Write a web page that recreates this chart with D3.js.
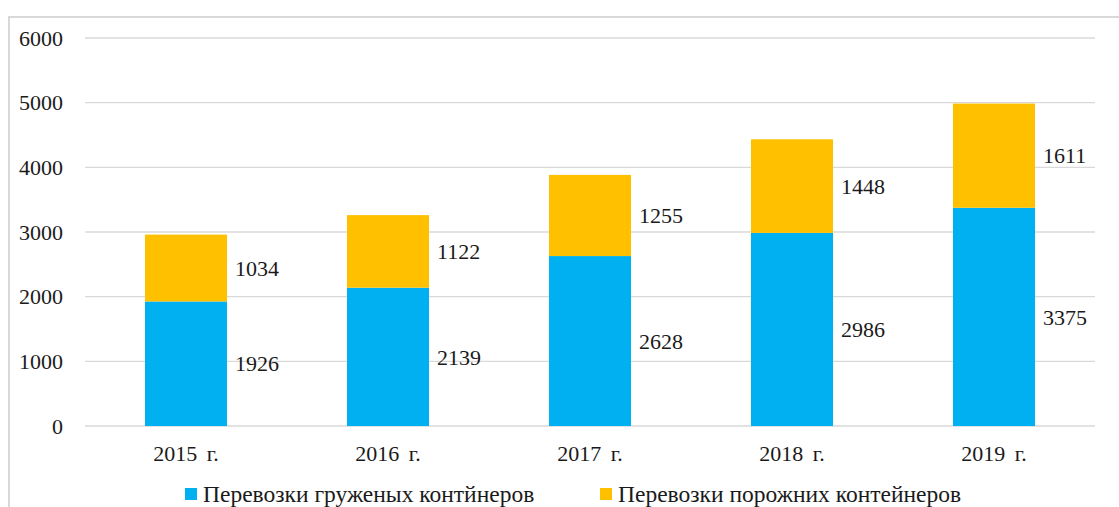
<!DOCTYPE html>
<html>
<head>
<meta charset="utf-8">
<script src="https://cdn.jsdelivr.net/npm/d3@7"></script>
<style>
  body { margin: 0; background: #fff; }
  svg text { font-family: "Liberation Serif", "Times New Roman", serif; fill: #1a1a1a; }
</style>
</head>
<body>
<div id="chart"></div>
<script>
// data
const years = ["2015 г.", "2016 г.", "2017 г.", "2018 г.", "2019 г."];
const loaded = [1926, 2139, 2628, 2986, 3375];
const empty = [1034, 1122, 1255, 1448, 1611];
const yTicks = [0, 1000, 2000, 3000, 4000, 5000, 6000];
const seriesNames = ["Перевозки груженых контйнеров", "Перевозки порожних контейнеров"];
const colors = ["#00b0f0", "#ffc000"];

const W = 1119, H = 507;
const margin = {top: 38, right: 24, bottom: 81, left: 85};
const width = W - margin.left - margin.right,
      height = H - margin.top - margin.bottom;

const root = d3.select("#chart").append("svg")
    .attr("width", W).attr("height", H);

// outer frame
root.append("rect")
    .attr("x", 9).attr("y", 17)
    .attr("width", W + 20).attr("height", H + 20)
    .attr("fill", "none").attr("stroke", "#d9d9d9").attr("stroke-width", 2);

const svg = root.append("g")
    .attr("transform", `translate(${margin.left},${margin.top})`);

const x = d3.scaleBand()
    .domain(years)
    .range([0, width])
    .paddingInner(0.594)
    .paddingOuter(0.297);

const y = d3.scaleLinear()
    .domain([0, 6000])
    .range([height, 0]);

// gridlines
svg.selectAll("line.grid")
    .data(yTicks)
    .enter().append("line")
    .attr("x1", 0).attr("x2", width)
    .attr("y1", d => y(d)).attr("y2", d => y(d))
    .attr("stroke", "#d9d9d9").attr("stroke-width", 1.3);

// y tick labels
svg.selectAll("text.ytick")
    .data(yTicks)
    .enter().append("text")
    .attr("x", -22)
    .attr("y", d => y(d))
    .attr("dy", "0.35em")
    .attr("text-anchor", "end")
    .style("font-size", "22px")
    .text(d => d);

const stackData = years.map((yr, i) => ({year: yr, loaded: loaded[i], empty: empty[i]}));
const stack = d3.stack().keys(["loaded", "empty"])(stackData);

stack.forEach((layer, li) => {
    svg.selectAll(`rect.s${li}`)
        .data(layer)
        .enter().append("rect")
        .attr("x", d => x(d.data.year))
        .attr("y", d => y(d[1]))
        .attr("width", x.bandwidth())
        .attr("height", d => y(d[0]) - y(d[1]))
        .attr("fill", colors[li]);

    svg.selectAll(`text.l${li}`)
        .data(layer)
        .enter().append("text")
        .attr("x", d => x(d.data.year) + x.bandwidth() + 8)
        .attr("y", d => y((d[0] + d[1]) / 2))
        .attr("dy", "0.35em")
        .style("font-size", "22px")
        .text(d => d[1] - d[0]);
});

// x labels
svg.selectAll("text.xtick")
    .data(years)
    .enter().append("text")
    .attr("x", d => x(d) + x.bandwidth() / 2)
    .attr("y", height + 35)
    .attr("text-anchor", "middle")
    .style("font-size", "22px")
    .style("word-spacing", "4px")
    .text(d => d);

// legend
const legendX = [185, 600];
const legend = root.selectAll("g.legend")
    .data(seriesNames)
    .enter().append("g")
    .attr("transform", (d, i) => `translate(${legendX[i]},${494})`);

legend.append("rect")
    .attr("x", 0).attr("y", -6)
    .attr("width", 12).attr("height", 12)
    .attr("fill", (d, i) => colors[i]);

legend.append("text")
    .attr("x", 18).attr("y", 0)
    .attr("dy", "0.35em")
    .style("font-size", "23.5px")
    .text(d => d);
</script>
</body>
</html>
